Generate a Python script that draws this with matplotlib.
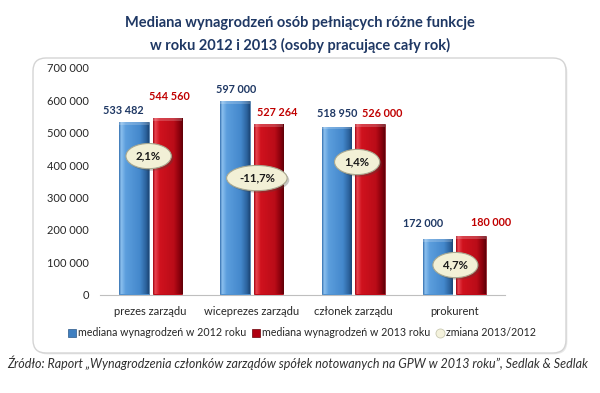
import matplotlib
matplotlib.use("Agg")
import matplotlib.pyplot as plt
import numpy as np
from matplotlib.patches import FancyBboxPatch
from matplotlib.colors import LinearSegmentedColormap
from matplotlib.lines import Line2D
from matplotlib.ticker import FuncFormatter
import matplotlib.patheffects as pe

# ---------------- data ----------------
categories = ["prezes zarządu", "wiceprezes zarządu", "członek zarządu", "prokurent"]
median_2012 = [533482, 597000, 518950, 172000]
median_2013 = [544560, 527264, 526000, 180000]
change_labels = ["2,1%", "-11,7%", "1,4%", "4,7%"]
y_ticks = [0, 100000, 200000, 300000, 400000, 500000, 600000, 700000]
series_names = ["mediana wynagrodzeń w 2012 roku",
                "mediana wynagrodzeń w 2013 roku",
                "zmiana 2013/2012"]
title_lines = ["Mediana wynagrodzeń osób pełniących różne funkcje",
               "w roku 2012 i 2013 (osoby pracujące cały rok)"]
source_text = ("Źródło: Raport „Wynagrodzenia członków zarządów spółek notowanych "
               "na GPW w 2013 roku”, Sedlak & Sedlak")

# ---------------- style ----------------
FONT = ["Lato", "DejaVu Sans"]
plt.rcParams["font.family"] = FONT
NAVY = "#1F3864"
RED = "#C00000"
TXT = "#262626"

# label offsets (pixels from bar top) -- manual placement as in original
off_2012 = [(-11, 11), (1, 12), (1, 13), (-15, 15)]
off_2013 = [(2, 22), (9, 11), (12, 11), (20, 14)]
# badge positions: (dx pixels from category centre, y in axes fraction)
badge_pos = [(-2, 0.611), (5, 0.514), (4, 0.585), (1, 0.130)]

W, H = 600, 393
fig = plt.figure(figsize=(W / 100, H / 100), dpi=100)
fig.patch.set_facecolor("white")

# rounded chart frame
frame = FancyBboxPatch((0.33, (H - 353) / 100), 5.33, 2.95,
                       boxstyle="round,pad=0,rounding_size=0.13",
                       transform=fig.dpi_scale_trans, fc="white", ec="#D4D4D4",
                       lw=1.0, zorder=-5)
frame.set_path_effects([pe.SimplePatchShadow(offset=(1, -1), alpha=0.12), pe.Normal()])
fig.patches.append(frame)

ax = fig.add_axes([100 / W, (H - 294.5) / H, 405 / W, 226.5 / H])
ax.set_zorder(2)
ax.set_facecolor("none")

x = np.arange(len(categories))
bw = 0.29
off = 0.165

blue_cmap = LinearSegmentedColormap.from_list("b", [
    (0.0, "#3470B0"), (0.07, "#8CC0EE"), (0.22, "#5C9EDD"),
    (0.7, "#4488CC"), (0.9, "#2C639E"), (1.0, "#1C4677")])
red_cmap = LinearSegmentedColormap.from_list("r", [
    (0.0, "#A0000E"), (0.07, "#E84550"), (0.22, "#D0121E"),
    (0.7, "#BA0C18"), (0.9, "#86000C"), (1.0, "#5E0008")])

b1 = ax.bar(x - off, median_2012, bw, color="#4A8FD0", edgecolor="#2A5888", lw=0.4, zorder=2)
b2 = ax.bar(x + off, median_2013, bw, color="#C00010", edgecolor="#6A0008", lw=0.4, zorder=2)

grad = np.linspace(0, 1, 128)[None, :]
for bars, cm in ((b1, blue_cmap), (b2, red_cmap)):
    for p in bars:
        x0, w, h = p.get_x(), p.get_width(), p.get_height()
        im = ax.imshow(grad, extent=[x0, x0 + w, 0, h], cmap=cm, aspect="auto",
                       zorder=2.1, interpolation="bilinear")
        im.set_clip_path(p)
        # top bevel highlight
        ax.add_patch(plt.Rectangle((x0, h - 9000), w, 9000, fc="white", alpha=0.2,
                                   ec="none", zorder=2.2, clip_path=p))

ax.set_xlim(-0.5, 3.5)
ax.set_ylim(0, 700000)
ax.set_yticks(y_ticks)
ax.yaxis.set_major_formatter(FuncFormatter(lambda v, _: f"{int(v):,}".replace(",", " ")))
ax.set_xticks(x)
ax.set_xticklabels(categories)
ax.tick_params(axis="both", length=0, labelsize=8, colors=TXT)
ax.tick_params(axis="y", pad=8)
ax.tick_params(axis="x", pad=8)
for s in ("top", "right", "left"):
    ax.spines[s].set_visible(False)
ax.spines["bottom"].set_color("#BFBFBF")
ax.spines["bottom"].set_linewidth(0.8)

def fmt(v):
    return f"{v:,}".replace(",", " ")

for i in range(len(categories)):
    ax.annotate(fmt(median_2012[i]), xy=(x[i] - off, median_2012[i]),
                xytext=off_2012[i], textcoords="offset pixels",
                ha="center", va="center", color=NAVY, fontsize=7.8, fontweight="bold")
    ax.annotate(fmt(median_2013[i]), xy=(x[i] + off, median_2013[i]),
                xytext=off_2013[i], textcoords="offset pixels",
                ha="center", va="center", color=RED, fontsize=7.8, fontweight="bold")

for i, lbl in enumerate(change_labels):
    dx, yf = badge_pos[i]
    t = ax.annotate(lbl, xy=(x[i], yf), xycoords=ax.get_xaxis_transform(),
                    xytext=(dx, 0), textcoords="offset pixels",
                    ha="center", va="center", fontsize=8.2, fontweight="bold",
                    color="#1A1A1A", zorder=5,
                    bbox=dict(boxstyle="ellipse,pad=0.3", fc="#F2F0D6",
                              ec="#A8A890", lw=0.8))
    t.get_bbox_patch().set_path_effects(
        [pe.SimplePatchShadow(offset=(1.5, -1.5), alpha=0.3), pe.Normal()])

# legend
handles = [
    Line2D([], [], ls="none", marker="s", ms=5.5, mfc="#3F7FC0", mec="#2A5888", mew=0.5),
    Line2D([], [], ls="none", marker="s", ms=5.5, mfc="#B00010", mec="#6A0008", mew=0.5),
    Line2D([], [], ls="none", marker="o", ms=6.5, mfc="#F4F2DC", mec="#C8C8B0", mew=0.6),
]
fig.legend(handles, series_names, loc="center", bbox_to_anchor=(302 / W, 1 - 333 / H),
           ncol=3, frameon=False, fontsize=7.7, handlelength=0.7, handletextpad=0.2,
           columnspacing=0.6, borderpad=0, labelcolor=TXT)

# title
fig.text(0.5, 1 - 23 / H, title_lines[0], ha="center", va="center",
         fontsize=10.5, fontweight="bold", color=NAVY)
fig.text(0.5, 1 - 45 / H, title_lines[1], ha="center", va="center",
         fontsize=10.5, fontweight="bold", color=NAVY)

# source
fig.text(298 / W, 1 - 363 / H, source_text, ha="center", va="center",
         fontsize=9.0, style="italic", color="#303030")

fig.savefig("out.png", dpi=100, facecolor="white")
